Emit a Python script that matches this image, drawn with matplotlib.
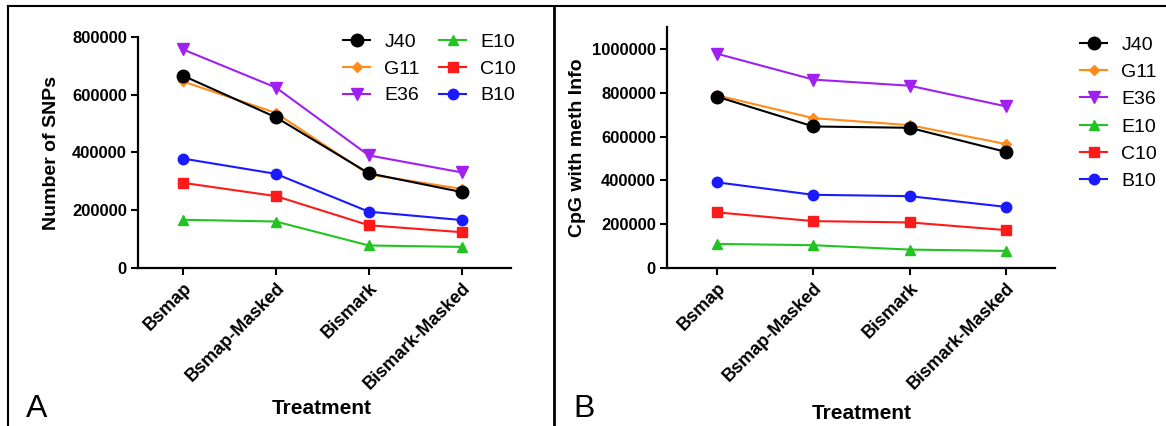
import matplotlib
matplotlib.use('Agg')
import matplotlib.pyplot as plt
from matplotlib.lines import Line2D

plt.rcParams['font.family'] = ['Liberation Sans', 'DejaVu Sans']

treatments = ['Bsmap', 'Bsmap-Masked', 'Bismark', 'Bismark-Masked']
samples = ['J40', 'G11', 'E36', 'E10', 'C10', 'B10']

# panel A: number of SNPs
snps_J40 = [666000, 522000, 328000, 263000]
snps_G11 = [646000, 537000, 324000, 274000]
snps_E36 = [757000, 625000, 390000, 331000]
snps_E10 = [167000, 161000, 78000, 73000]
snps_C10 = [295000, 249000, 148000, 124000]
snps_B10 = [379000, 326000, 195000, 166000]

# panel B: CpG with meth info
cpg_J40 = [782000, 646000, 640000, 530000]
cpg_G11 = [788000, 684000, 652000, 566000]
cpg_E36 = [978000, 860000, 832000, 738000]
cpg_E10 = [110000, 104000, 84000, 78000]
cpg_C10 = [254000, 214000, 208000, 173000]
cpg_B10 = [391000, 334000, 328000, 279000]

snps = [snps_J40, snps_G11, snps_E36, snps_E10, snps_C10, snps_B10]
cpg = [cpg_J40, cpg_G11, cpg_E36, cpg_E10, cpg_C10, cpg_B10]

colors = ['black', '#ff8c1a', '#a020f0', '#22c422', '#ff1a1a', '#1a1aff']
markers = ['o', 'D', 'v', '^', 's', 'o']
msizes = [9, 5, 8, 7.5, 7, 7.5]

W, H = 1166, 426
fig = plt.figure(figsize=(W / 100, H / 100), dpi=100)
axA = fig.add_axes([138 / W, 1 - 268 / H, 373 / W, 231 / H])
axB = fig.add_axes([667 / W, 1 - 268 / H, 388 / W, 241 / H])

x = list(range(len(treatments)))


def draw(ax, data):
    for i in range(len(samples)):
        ax.plot(x, data[i], color=colors[i], marker=markers[i], markersize=msizes[i],
                linewidth=1.5, label=samples[i], zorder=3 + (len(samples) - i) * 0.1)
    ax.spines['top'].set_visible(False)
    ax.spines['right'].set_visible(False)
    ax.spines['left'].set_linewidth(1.6)
    ax.spines['bottom'].set_linewidth(1.6)
    ax.tick_params(direction='out', length=5, width=1.5, pad=3)
    ax.set_xticks(x)
    ax.set_xticklabels(treatments, rotation=45, ha='right', rotation_mode='anchor',
                       fontsize=13, fontweight='bold')


leg_kw = dict(frameon=False, fontsize=14, handlelength=1.4, handletextpad=0.72,
              borderpad=0, borderaxespad=0, bbox_transform=fig.transFigure)

draw(axA, snps)
axA.set_xlim(-0.484, 3.53)
axA.set_ylim(0, 800000)
axA.set_yticks([0, 200000, 400000, 600000, 800000])
axA.set_yticklabels(['0', '200000', '400000', '600000', '800000'], fontsize=12, fontweight='bold')
axA.set_ylabel('Number of SNPs', fontsize=14, fontweight='bold', labelpad=8.5)
axA.legend(ncol=2, loc='upper left', bbox_to_anchor=(343 / W, 1 - 33 / H),
           columnspacing=1.0, labelspacing=0.48, **leg_kw)

draw(axB, cpg)
axB.set_xlim(-0.52, 3.51)
axB.set_ylim(0, 1100000)
axB.set_yticks([0, 200000, 400000, 600000, 800000, 1000000])
axB.set_yticklabels(['0', '200000', '400000', '600000', '800000', '1000000'],
                    fontsize=12, fontweight='bold')
axB.set_ylabel('CpG with meth Info', fontsize=14, fontweight='bold', labelpad=4.5)
axB.legend(loc='upper left', bbox_to_anchor=(1080 / W, 1 - 36 / H),
           labelspacing=0.5, **leg_kw)

fig.text(0.276, 0.042, 'Treatment', ha='center', va='center', fontsize=15, fontweight='bold')
fig.text(0.739, 0.030, 'Treatment', ha='center', va='center', fontsize=15, fontweight='bold')
fig.text(0.022, 0.005, 'A', fontsize=23, ha='left', va='bottom')
fig.text(0.492, 0.005, 'B', fontsize=23, ha='left', va='bottom')

# panel frame lines
fig.add_artist(Line2D([0.0069, 0.0069], [0, 0.985], color='black', linewidth=1.5))
fig.add_artist(Line2D([0.0069, 1.0], [0.985, 0.985], color='black', linewidth=1.5))
fig.add_artist(Line2D([0.4751, 0.4751], [0, 0.985], color='black', linewidth=2))

fig.savefig('out.png', dpi=100)
